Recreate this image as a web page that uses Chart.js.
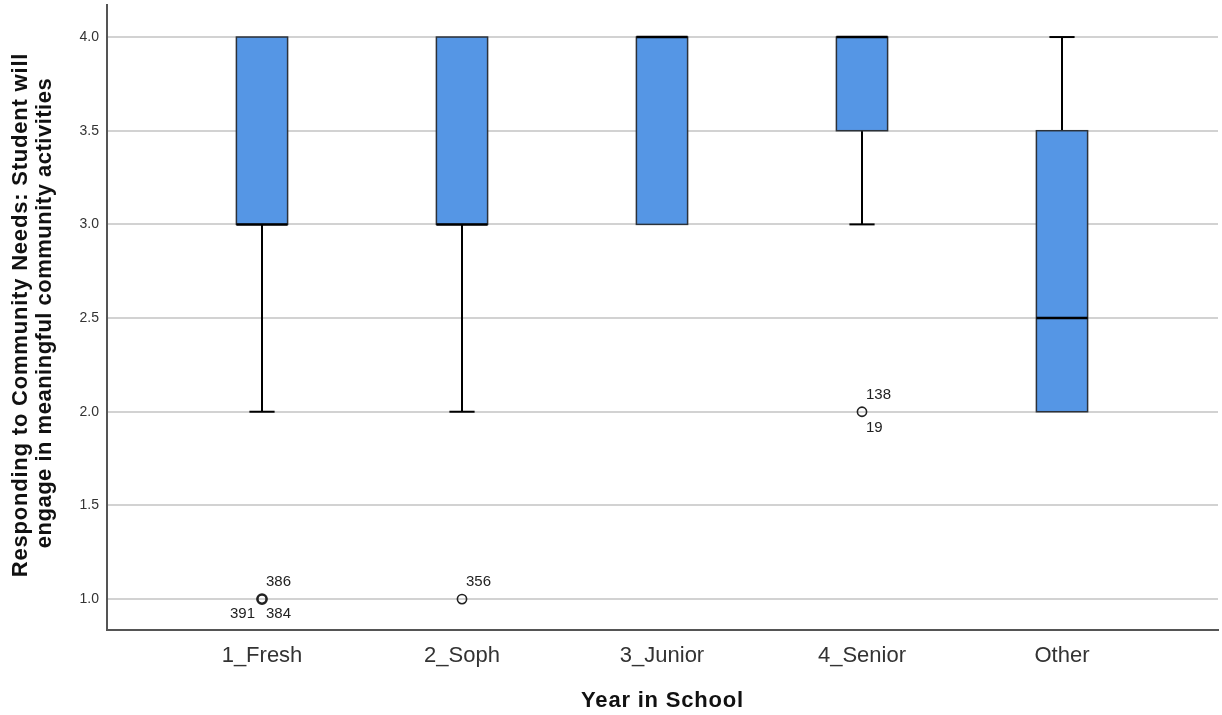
<!DOCTYPE html>
<html>
<head>
<meta charset="utf-8">
<script src="https://cdn.jsdelivr.net/npm/chart.js@4.4.1/dist/chart.umd.min.js"></script>
<style>
  html, body { margin: 0; padding: 0; background: #fff; }
  #wrap { width: 1222px; height: 715px; }
</style>
</head>
<body>
<div id="wrap"><canvas id="c" width="1222" height="715"></canvas></div>
<script>
// Year-in-school groups and their box-plot summaries
const categories = ['1_Fresh', '2_Soph', '3_Junior', '4_Senior', 'Other'];
const whiskerLow  = [2.0, 2.0, 3.0, 3.0, 2.0];
const q1          = [3.0, 3.0, 3.0, 3.5, 2.0];
const median      = [3.0, 3.0, 4.0, 4.0, 2.5];
const q3          = [4.0, 4.0, 4.0, 4.0, 3.5];
const whiskerHigh = [4.0, 4.0, 4.0, 4.0, 4.0];

// Outliers: group index, value, case count at that point, case labels
const outlierGroup  = [0, 1, 3];
const outlierValue  = [1.0, 1.0, 2.0];
const outlierCount  = [3, 1, 2];
const outlierLabels = [['386', '391', '384'], ['356'], ['138', '19']];

const yTicks = [1.0, 1.5, 2.0, 2.5, 3.0, 3.5, 4.0];

const yTitle = ['Responding to Community Needs: Student will', 'engage in meaningful community activities'];
const xTitle = 'Year in School';

const FONT = '"Liberation Sans", Arial, sans-serif';

const boxPlotPlugin = {
  id: 'boxPlot',
  afterDatasetsDraw(chart) {
    const ctx = chart.ctx;
    const xs = chart.scales.x, ys = chart.scales.y;
    const halfBox = 0.128, halfCap = 0.063;
    ctx.save();
    categories.forEach((c, i) => {
      const cx = xs.getPixelForValue(i + 1);
      const bl = xs.getPixelForValue(i + 1 - halfBox);
      const br = xs.getPixelForValue(i + 1 + halfBox);
      const cl = xs.getPixelForValue(i + 1 - halfCap);
      const cr = xs.getPixelForValue(i + 1 + halfCap);
      const yLo = ys.getPixelForValue(whiskerLow[i]);
      const yHi = ys.getPixelForValue(whiskerHigh[i]);
      const yQ1 = ys.getPixelForValue(q1[i]);
      const yQ3 = ys.getPixelForValue(q3[i]);
      const yMd = ys.getPixelForValue(median[i]);
      // whiskers
      ctx.strokeStyle = '#000';
      ctx.lineWidth = 2;
      if (whiskerLow[i] < q1[i]) {
        ctx.beginPath(); ctx.moveTo(cx, yQ1); ctx.lineTo(cx, yLo); ctx.stroke();
        ctx.beginPath(); ctx.moveTo(cl, yLo); ctx.lineTo(cr, yLo); ctx.stroke();
      }
      if (whiskerHigh[i] > q3[i]) {
        ctx.beginPath(); ctx.moveTo(cx, yQ3); ctx.lineTo(cx, yHi); ctx.stroke();
        ctx.beginPath(); ctx.moveTo(cl, yHi); ctx.lineTo(cr, yHi); ctx.stroke();
      }
      // box
      ctx.fillStyle = '#5596E5';
      ctx.fillRect(bl, yQ3, br - bl, yQ1 - yQ3);
      ctx.strokeStyle = '#2c323a';
      ctx.lineWidth = 1.5;
      ctx.strokeRect(bl, yQ3, br - bl, yQ1 - yQ3);
      // median
      ctx.strokeStyle = '#000';
      ctx.lineWidth = 2.5;
      ctx.beginPath(); ctx.moveTo(bl, yMd); ctx.lineTo(br, yMd); ctx.stroke();
    });
    // outliers
    ctx.font = '15px ' + FONT;
    ctx.fillStyle = '#222';
    outlierGroup.forEach((g, k) => {
      const px = xs.getPixelForValue(g + 1);
      const py = ys.getPixelForValue(outlierValue[k]);
      ctx.strokeStyle = '#222';
      ctx.lineWidth = outlierCount[k] > 2 ? 2.6 : 1.6;
      ctx.beginPath(); ctx.arc(px, py, 4.6, 0, Math.PI * 2); ctx.stroke();
      const labs = outlierLabels[k];
      ctx.textBaseline = 'middle';
      ctx.textAlign = 'left';
      if (labs.length >= 1) ctx.fillText(labs[0], px + 4, py - 17);
      if (labs.length === 2) ctx.fillText(labs[1], px + 4, py + 16);
      if (labs.length === 3) {
        ctx.fillText(labs[2], px + 4, py + 15);
        ctx.textAlign = 'right';
        ctx.fillText(labs[1], px - 7, py + 15);
      }
    });
    // axis titles
    ctx.fillStyle = '#111';
    ctx.font = 'bold 22px ' + FONT;
    ctx.letterSpacing = '0.8px';
    ctx.textAlign = 'center';
    ctx.textBaseline = 'alphabetic';
    ctx.fillText(xTitle, (chart.chartArea.left + chart.chartArea.right) / 2, 707);
    const cy = 315;
    ctx.save();
    ctx.translate(27, cy);
    ctx.rotate(-Math.PI / 2);
    ctx.fillText(yTitle[0], 0, 0);
    ctx.restore();
    ctx.save();
    ctx.translate(50.5, cy - 2);
    ctx.rotate(-Math.PI / 2);
    ctx.letterSpacing = '0.5px';
    ctx.fillText(yTitle[1], 0, 0);
    ctx.restore();
    ctx.restore();
  }
};

new Chart(document.getElementById('c'), {
  type: 'scatter',
  data: { datasets: [{ data: [], pointRadius: 0 }] },
  options: {
    responsive: false,
    animation: false,
    layout: { padding: { top: 5, right: 4, left: 0, bottom: 0 } },
    plugins: { legend: { display: false }, tooltip: { enabled: false } },
    scales: {
      x: {
        type: 'linear',
        min: 0.225,
        max: 5.78,
        afterBuildTicks(s) { s.ticks = categories.map((c, i) => ({ value: i + 1 })); },
        afterFit(s) { s.height = 85; s.paddingLeft = 0; s.paddingRight = 0; },
        ticks: {
          autoSkip: false,
          maxRotation: 0,
          padding: 13,
          color: '#333',
          font: { family: FONT, size: 22 },
          callback(v) { return categories[Math.round(v) - 1] || ''; }
        },
        grid: { display: false, drawTicks: false },
        border: { display: true, color: '#555', width: 2 }
      },
      y: {
        min: 0.835,
        max: 4.171,
        afterBuildTicks(s) { s.ticks = yTicks.map(v => ({ value: v })); },
        afterFit(s) { s.width = 107; s.paddingTop = 0; s.paddingBottom = 0; },
        ticks: {
          padding: 8,
          color: '#333',
          font: { family: FONT, size: 14 },
          callback(v) { return v.toFixed(1); }
        },
        grid: { color: '#d2d2d2', lineWidth: 2, drawTicks: false },
        border: { display: true, color: '#555', width: 2 }
      }
    }
  },
  plugins: [boxPlotPlugin]
});
</script>
</body>
</html>
